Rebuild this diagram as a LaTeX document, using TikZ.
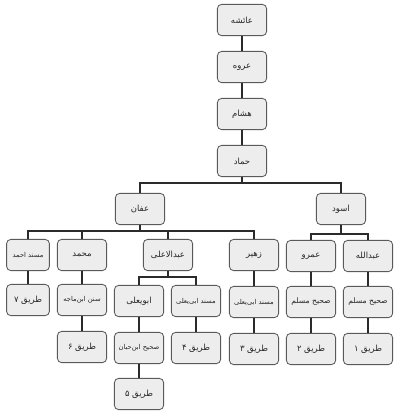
\documentclass[tikz,border=0pt]{standalone}
\usepackage{fontspec}
\newfontfamily\arabicfont[Script=Arabic]{DejaVu Sans}
\TeXXeTstate=1
\usetikzlibrary{positioning}
\definecolor{boxgray}{HTML}{EDEDED}
\definecolor{edgegray}{HTML}{5A5A5A}
\definecolor{linegray}{HTML}{2B2B2B}
\newcommand{\fatext}[1]{{\arabicfont\fontsize{6}{7}\selectfont\beginR #1\endR}}
\newcommand{\fasmall}[1]{{\arabicfont\fontsize{4.8}{6}\selectfont\beginR #1\endR}}
\newcommand{\famid}[1]{{\arabicfont\fontsize{5.4}{6.5}\selectfont\beginR #1\endR}}
\tikzset{
	namenode/.style={
			shape=rectangle,
			rounded corners=3pt,
			draw=edgegray,
			fill=boxgray,
			line width=0.6pt,
			minimum width=1.23cm,
			minimum height=0.78cm,
			inner sep=0pt,
			text=black!85
		},
	narrownode/.style={
			namenode,
			minimum width=1.07cm
		}
}
\tikzset{
	branch/.style={draw=linegray, line width=1.7pt}
}
\begin{document}
\begin{tikzpicture}[x=0.025cm, y=-0.025cm]

  \useasboundingbox[fill=white] (0,0) rectangle (400,416);

  % chain
  \node[namenode] (aishe)  at (242,20)  {\fatext{عائشه}};
  \node[namenode] (urwa)   at (242,67)  {\fatext{عروه}};
  \node[namenode] (hisham) at (242,114) {\fatext{هشام}};
  \node[namenode] (hammad) at (242,161) {\fatext{حماد}};

  \node[namenode] (affan) at (140,209) {\fatext{عفان}};
  \node[namenode] (aswad) at (341,209) {\fatext{اسود}};

  % row 3
  \node[narrownode] (ahmad)    at (28,255)  {\fasmall{مسند احمد}};
  \node[namenode]   (muhammad) at (82,255)  {\fatext{محمد}};
  \node[namenode]   (abdulala) at (168,255) {\fatext{عبدالاعلی}};
  \node[namenode]   (zuhair)   at (254,255) {\fatext{زهیر}};
  \node[namenode]   (amr)      at (311,256) {\fatext{عمرو}};
  \node[namenode]   (abdullah) at (368,256) {\fatext{عبدالله}};

  % row 4
  \node[narrownode] (tariq7)   at (28,300)  {\fatext{طریق ۷}};
  \node[namenode]   (sunan)    at (82,300)  {\fasmall{سنن ابن‌ماجه}};
  \node[namenode]   (abuyala)  at (139,301) {\fatext{ابویعلی}};
  \node[namenode]   (musnada)  at (196,301) {\fasmall{مسند ابی‌یعلی}};
  \node[namenode]   (musnadb)  at (254,302) {\fasmall{مسند ابی‌یعلی}};
  \node[namenode]   (sahiha)   at (311,302) {\famid{صحیح مسلم}};
  \node[namenode]   (sahihb)   at (368,302) {\famid{صحیح مسلم}};

  % row 5
  \node[namenode] (tariq6)    at (82,347)  {\fatext{طریق ۶}};
  \node[namenode] (ibnhibban) at (139,348) {\fasmall{صحیح ابن‌حبان}};
  \node[namenode] (tariq4)    at (196,348) {\fatext{طریق ۴}};
  \node[namenode] (tariq3)    at (254,349) {\fatext{طریق ۳}};
  \node[namenode] (tariq2)    at (311,349) {\fatext{طریق ۲}};
  \node[namenode] (tariq1)    at (368,349) {\fatext{طریق ۱}};

  \node[namenode] (tariq5) at (139,394) {\fatext{طریق ۵}};

  % bus points
  \coordinate (busa) at (242,183);
  \coordinate (busb) at (140,231);
  \coordinate (busc) at (341,234);
  \coordinate (busd) at (168,277);

  \draw[branch] (aishe) -- (urwa);
  \draw[branch] (urwa) -- (hisham);
  \draw[branch] (hisham) -- (hammad);
  \draw[branch] (hammad) -- (busa);
  \draw[branch] (affan.north) |- (busa) -| (aswad.north);

  \draw[branch] (affan) -- (busb);
  \draw[branch] (ahmad.north) |- (busb) -| (zuhair.north);
  \draw[branch] (muhammad.north) -- (muhammad.north |- busb);
  \draw[branch] (abdulala.north) -- (abdulala.north |- busb);

  \draw[branch] (aswad) -- (busc);
  \draw[branch] (amr.north) |- (busc) -| (abdullah.north);

  \draw[branch] (abdulala) -- (busd);
  \draw[branch] (abuyala.north) |- (busd) -| (musnada.north);

  \draw[branch] (ahmad) -- (tariq7);
  \draw[branch] (muhammad) -- (sunan);
  \draw[branch] (zuhair) -- (musnadb);
  \draw[branch] (amr) -- (sahiha);
  \draw[branch] (abdullah) -- (sahihb);

  \draw[branch] (sunan) -- (tariq6);
  \draw[branch] (abuyala) -- (ibnhibban);
  \draw[branch] (musnada) -- (tariq4);
  \draw[branch] (musnadb) -- (tariq3);
  \draw[branch] (sahiha) -- (tariq2);
  \draw[branch] (sahihb) -- (tariq1);
  \draw[branch] (ibnhibban) -- (tariq5);

\end{tikzpicture}
\end{document}
